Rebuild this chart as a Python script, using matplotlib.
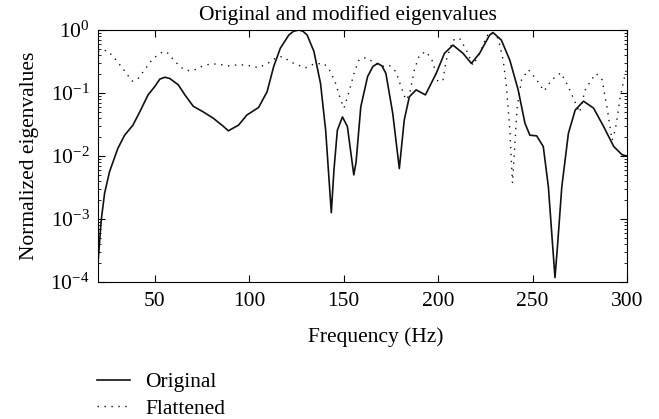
import matplotlib
matplotlib.use("Agg")
import matplotlib.pyplot as plt
import numpy as np

plt.rcParams['font.family'] = ['Liberation Serif', 'DejaVu Serif']
plt.rcParams['mathtext.fontset'] = 'stix'

# Original eigenvalues (frequency Hz, log10 of normalized eigenvalue)
orig_f = [20, 21.7, 23.5, 26.1, 30.5, 34.1, 38.5, 42.1, 46.5, 50, 52.7, 55.4, 58,
          62.5, 66, 70.4, 75.7, 81, 86.4, 89, 94.4, 98.8, 105, 109.5, 113, 116.5,
          121, 123.5, 126.3, 128.5, 130.7, 134.3, 137.8, 140.5, 142.2, 143.5, 144.9,
          146.7, 149.4, 152, 155.4, 156.6, 159.1, 162.7, 165.5, 168, 170.3, 172.4,
          176, 179.5, 182.1, 184.8, 188.4, 193.3, 199, 203.4, 207.9, 213.2, 217.6,
          222, 227.3, 229.1, 233.5, 238, 242.4, 246, 248.6, 252.2, 255.7, 258.4,
          260.7, 261.9, 263.2, 265.5, 269, 272.6, 277, 282.3, 287.6, 293, 297.4, 300]
orig_log = [-3.70, -3.02, -2.59, -2.25, -1.88, -1.67, -1.51, -1.30, -1.03, -0.90,
            -0.78, -0.75, -0.77, -0.87, -1.03, -1.21, -1.30, -1.40, -1.53, -1.60,
            -1.51, -1.35, -1.23, -0.98, -0.58, -0.29, -0.08, -0.02, 0.0, -0.02,
            -0.08, -0.34, -0.85, -1.59, -2.33, -2.90, -2.22, -1.59, -1.38, -1.53,
            -2.30, -2.10, -1.22, -0.74, -0.58, -0.53, -0.57, -0.69, -1.32, -2.20,
            -1.43, -1.06, -0.95, -1.03, -0.69, -0.37, -0.24, -0.37, -0.53, -0.37,
            -0.08, -0.04, -0.16, -0.48, -0.95, -1.48, -1.67, -1.68, -1.85, -2.49,
            -3.44, -3.93, -3.44, -2.49, -1.64, -1.27, -1.13, -1.24, -1.53, -1.85,
            -1.98, -2.0]

# Flattened eigenvalues
flat_f = [20, 21.7, 25.2, 29.7, 34.1, 38, 40.8, 44.7, 49.2, 54.5, 57.1, 60.7, 65.1,
          68.7, 71.3, 74.9, 79.3, 83.7, 88.7, 95, 101.5, 105, 110.3, 113.9, 117.4,
          123.6, 129.8, 134.3, 139.6, 143.1, 145.8, 148.5, 150.2, 152.9, 155.5,
          158.2, 161.8, 165.3, 169.8, 174.2, 177.7, 180.4, 183, 184.8, 187.5, 190.1,
          193.7, 197.2, 199.9, 202.6, 204.3, 207.9, 211.4, 215, 218.5, 222, 225.6,
          227.3, 231.8, 234.5, 236.2, 238, 239.4, 240.6, 241.9, 244.2, 247.8, 252.2,
          256.1, 260.2, 265, 269, 272, 274.9, 277.9, 280.5, 283.7, 286.8, 289.4,
          292.1, 293.8, 296.5, 299.1, 300]
flat_log = [-0.34, -0.32, -0.33, -0.48, -0.65, -0.81, -0.79, -0.63, -0.45, -0.34,
            -0.37, -0.50, -0.62, -0.65, -0.63, -0.58, -0.54, -0.54, -0.57, -0.55,
            -0.57, -0.60, -0.52, -0.45, -0.42, -0.53, -0.60, -0.54, -0.53, -0.66,
            -0.85, -1.11, -1.24, -0.98, -0.69, -0.47, -0.44, -0.50, -0.58, -0.56,
            -0.66, -0.90, -1.11, -1.03, -0.63, -0.40, -0.34, -0.50, -0.82, -0.79,
            -0.48, -0.16, -0.13, -0.32, -0.56, -0.37, -0.11, -0.03, -0.13, -0.48,
            -0.90, -1.59, -2.43, -1.85, -1.22, -0.79, -0.63, -0.79, -0.97, -0.79,
            -0.68, -0.90, -1.11, -1.31, -0.95, -0.82, -0.69, -0.79, -1.22, -1.75,
            -1.59, -1.06, -0.69, -0.60]

fig = plt.figure(figsize=(6.59, 4.19), dpi=100)
ax = fig.add_axes([0.1487, 0.327, 0.8027, 0.6014])

l1, = ax.plot(orig_f, 10 ** np.array(orig_log), '-', color='#111111', lw=1.2, label='Original')
l2, = ax.plot(flat_f, 10 ** np.array(flat_log), color='#111111', lw=1.0,
              linestyle=(0, (1, 4)), label='Flattened')

ax.set_yscale('log')
ax.set_xlim(20, 300)
ax.set_ylim(1e-4, 1)
ax.set_xticks([50, 100, 150, 200, 250, 300])
ax.tick_params(which='both', direction='in', top=True, right=True, labelsize=15.5)
ax.tick_params(which='major', length=5)
ax.tick_params(which='minor', length=2.5)
ax.tick_params(axis='x', pad=7)
ax.tick_params(axis='y', pad=6)

ax.set_title('Original and modified eigenvalues', fontsize=15.5, pad=7, x=0.4726)
ax.set_xlabel('Frequency (Hz)', fontsize=15.5, labelpad=12, x=0.5255)
ax.set_ylabel('Normalized eigenvalues', fontsize=15.5, labelpad=8)

fig.legend(handles=[l1, l2], loc='upper left', bbox_to_anchor=(0.147, 0.112),
           frameon=False, fontsize=15.5, handlelength=1.55, labelspacing=0.3,
           handletextpad=0.7, borderaxespad=0, borderpad=0)

fig.savefig('out.png', dpi=100)
